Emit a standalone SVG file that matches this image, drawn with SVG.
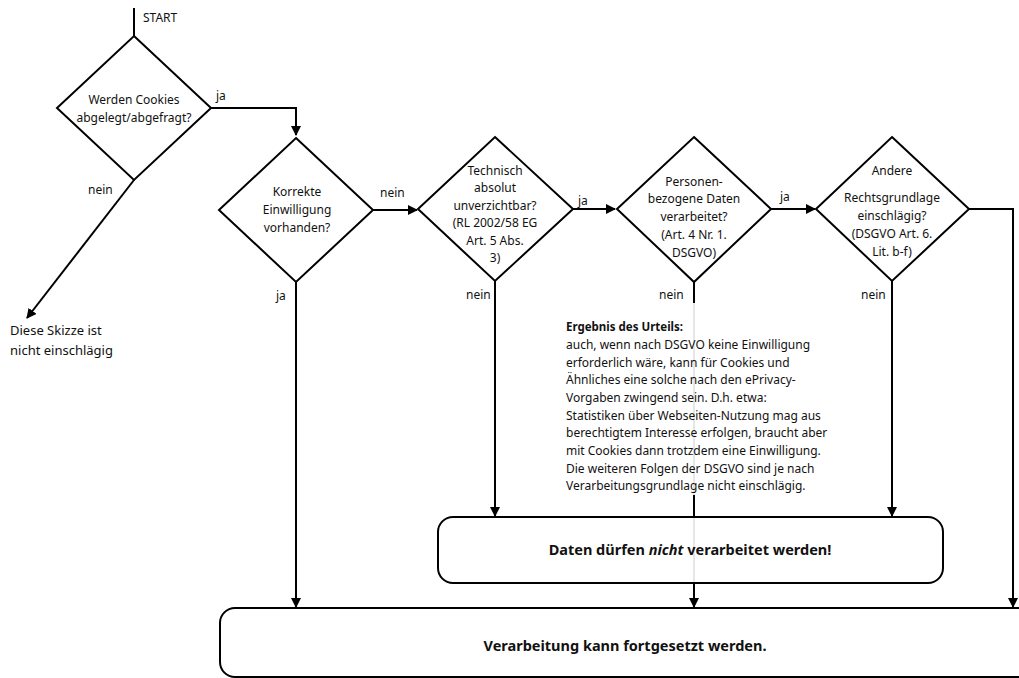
<svg xmlns="http://www.w3.org/2000/svg" width="1019" height="678" viewBox="0 0 1019 678">
<style>
text{font-family:"Noto Sans","Open Sans","Liberation Sans",sans-serif;font-size:12px;fill:#111}
.c{text-anchor:middle}
.b{font-weight:bold}
.shape{fill:#fff;stroke:#000;stroke-width:2}
.line{fill:none;stroke:#000;stroke-width:2}
.note{font-size:12px}
.big{font-size:14.5px}
</style>
<defs>
<marker id="arr" markerWidth="10" markerHeight="10" refX="9" refY="5" orient="auto" markerUnits="userSpaceOnUse">
<path d="M0,0 L10,5 L0,10 z" fill="#000"/>
</marker>
</defs>
<g id="connectors">
<path class="line" d="M134,8 V36"/>
<path class="line" d="M211,108 H296 V135" marker-end="url(#arr)"/>
<path class="line" d="M134,180 L27,318" marker-end="url(#arr)"/>
<path class="line" d="M373,210 H417" marker-end="url(#arr)"/>
<path class="line" d="M573,209 H615" marker-end="url(#arr)"/>
<path class="line" d="M771,209 H815" marker-end="url(#arr)"/>
<path class="line" d="M969,209 H1013 V607" marker-end="url(#arr)"/>
<path class="line" d="M296,282 V607" marker-end="url(#arr)"/>
<path class="line" d="M495,281 V516" marker-end="url(#arr)"/>
<path class="line" d="M892,281 V516" marker-end="url(#arr)"/>
<path class="line" d="M694,282 V607" marker-end="url(#arr)"/>
<text x="143" y="22">START</text>
<text x="216" y="100">ja</text>
<text x="88" y="194">nein</text>
<text x="380" y="197">nein</text>
<text x="578" y="205">ja</text>
<text x="780" y="201">ja</text>
<text x="276" y="300">ja</text>
<text x="466" y="299">nein</text>
<text x="659" y="299">nein</text>
<text x="861" y="299">nein</text>
</g>
<g id="start-decision">
<path class="shape" d="M134,36 L211,108 L134,180 L57,108 Z"/>
<text class="c" x="134" y="104">Werden Cookies</text>
<text class="c" x="134" y="122">abgelegt/abgefragt?</text>
</g>
<g id="not-applicable">
<text x="10" y="335" style="font-size:13px">Diese Skizze ist</text>
<text x="10" y="355" style="font-size:13px">nicht einschlägig</text>
</g>
<g id="consent-decision">
<path class="shape" d="M296,138 L373,210 L296,282 L219,210 Z"/>
<text class="c" x="297" y="196">Korrekte</text>
<text class="c" x="297" y="214">Einwilligung</text>
<text class="c" x="297" y="232">vorhanden?</text>
</g>
<g id="technical-decision">
<path class="shape" d="M495,137 L573,209 L495,281 L418,209 Z"/>
<text class="c" x="495" y="175">Technisch</text>
<text class="c" x="495" y="192">absolut</text>
<text class="c" x="495" y="210">unverzichtbar?</text>
<text class="c" x="495" y="227">(RL 2002/58 EG</text>
<text class="c" x="495" y="245">Art. 5 Abs.</text>
<text class="c" x="495" y="262">3)</text>
</g>
<g id="personal-data-decision">
<path class="shape" d="M694,137 L771,209 L694,282 L617,209 Z"/>
<text class="c" x="694" y="186">Personen-</text>
<text class="c" x="694" y="203">bezogene Daten</text>
<text class="c" x="694" y="221">verarbeitet?</text>
<text class="c" x="694" y="239">(Art. 4 Nr. 1.</text>
<text class="c" x="694" y="257">DSGVO)</text>
</g>
<g id="legal-basis-decision">
<path class="shape" d="M892,137 L969,209 L892,281 L816,209 Z"/>
<text class="c" x="892" y="175">Andere</text>
<text class="c" x="892" y="202">Rechtsgrundlage</text>
<text class="c" x="892" y="220">einschlägig?</text>
<text class="c" x="892" y="238">(DSGVO Art. 6.</text>
<text class="c" x="892" y="256">Lit. b-f)</text>
</g>
<g id="verdict-note">
<rect x="560" y="303" width="270" height="192" fill="#fff" fill-opacity="0.9"/>
<text class="b" x="566" y="331" style="font-size:11.5px">Ergebnis des Urteils:</text>
<text class="note" x="566" y="349">auch, wenn nach DSGVO keine Einwilligung</text>
<text class="note" x="566" y="367">erforderlich wäre, kann für Cookies und</text>
<text class="note" x="566" y="384">Ähnliches eine solche nach den ePrivacy-</text>
<text class="note" x="566" y="402">Vorgaben zwingend sein. D.h. etwa:</text>
<text class="note" x="566" y="420">Statistiken über Webseiten-Nutzung mag aus</text>
<text class="note" x="566" y="437">berechtigtem Interesse erfolgen, braucht aber</text>
<text class="note" x="566" y="455">mit Cookies dann trotzdem eine Einwilligung.</text>
<text class="note" x="566" y="473">Die weiteren Folgen der DSGVO sind je nach</text>
<text class="note" x="566" y="490">Verarbeitungsgrundlage nicht einschlägig.</text>
</g>
<g id="not-allowed">
<rect x="438" y="517" width="505" height="66" rx="15" fill="#fff" fill-opacity="0.9" stroke="#000" stroke-width="2"/>
<text class="c b big" x="690" y="555">Daten dürfen <tspan font-style="italic">nicht</tspan> verarbeitet werden!</text>
</g>
<g id="continue">
<rect x="220" y="608" width="820" height="69" rx="15" class="shape"/>
<text class="c b big" x="625" y="651">Verarbeitung kann fortgesetzt werden.</text>
</g>
</svg>
